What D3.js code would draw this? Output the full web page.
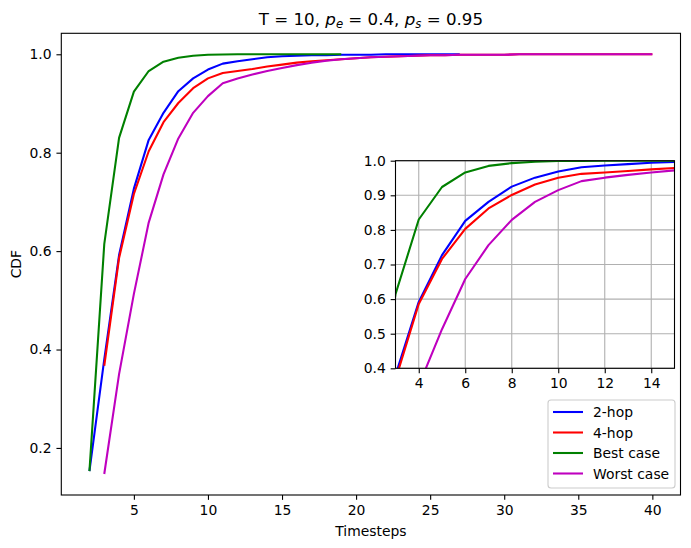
<!DOCTYPE html>
<html>
<head>
<meta charset="utf-8">
<script src="https://cdn.jsdelivr.net/npm/d3@7"></script>
<style>
    body { margin: 0; background: #fff; }
    svg text { font-family: "DejaVu Sans", sans-serif; fill: #000; }
    .axis path.domain { display: none; }
    .axis line { stroke: #000; stroke-width: 1.1px; }
    .axis text { font-size: 13.9px; }
    .grid line { stroke: #b0b0b0; stroke-width: 1.1px; }
</style>
</head>
<body>
<script>
// values
var steps2hop = [2, 3, 4, 5, 6, 7, 8, 9, 10, 11, 12, 13, 14, 15, 16, 17, 18, 19, 20, 21, 22, 23, 24, 25, 26, 27];
var hop2 = [0.153, 0.380, 0.592, 0.727, 0.826, 0.881, 0.925, 0.951, 0.969, 0.981, 0.986, 0.990, 0.994, 0.996,
    0.997, 0.998, 0.998, 0.999, 0.999, 0.999, 1.0, 1.0, 1.0, 1.0, 1.0, 1.0];

var stepsLong = [3, 4, 5, 6, 7, 8, 9, 10, 11, 12, 13, 14, 15, 16, 17, 18, 19, 20, 21, 22, 23, 24, 25, 26, 27, 28,
    29, 30, 31, 32, 33, 34, 35, 36, 37, 38, 39, 40];
var hop4 = [0.367, 0.586, 0.716, 0.803, 0.862, 0.901, 0.931, 0.951, 0.962, 0.966, 0.970, 0.975, 0.979, 0.983,
    0.986, 0.988, 0.990, 0.992, 0.994, 0.995, 0.996, 0.997, 0.998, 0.998, 0.999, 0.999, 0.999, 0.999,
    1.0, 1.0, 1.0, 1.0, 1.0, 1.0, 1.0, 1.0, 1.0, 1.0];
var worstCase = [0.147, 0.350, 0.513, 0.658, 0.756, 0.829, 0.881, 0.915, 0.941, 0.951, 0.959, 0.966, 0.972, 0.978,
    0.983, 0.987, 0.990, 0.992, 0.994, 0.995, 0.996, 0.997, 0.998, 0.998, 0.999, 0.999, 0.999, 0.999,
    1.0, 1.0, 1.0, 1.0, 1.0, 1.0, 1.0, 1.0, 1.0, 1.0];

var stepsBest = [2, 3, 4, 5, 6, 7, 8, 9, 10, 11, 12, 13, 14, 15, 16, 17, 18, 19];
var bestCase = [0.153, 0.614, 0.830, 0.924, 0.966, 0.985, 0.993, 0.997, 0.999, 0.9995, 1.0, 1.0, 1.0, 1.0,
    1.0, 1.0, 1.0, 1.0];

var seriesNames = ["2-hop", "4-hop", "Best case", "Worst case"];
var seriesColors = ["#0000ff", "#ff0000", "#008000", "#bf00bf"];

var mainXTicks = [5, 10, 15, 20, 25, 30, 35, 40];
var mainYTicks = [0.2, 0.4, 0.6, 0.8, 1.0];
var insetXTicks = [4, 6, 8, 10, 12, 14];
var insetYTicks = [0.4, 0.5, 0.6, 0.7, 0.8, 0.9, 1.0];

(function(){

    var width = 691, height = 548;
    var tick = 4.86;

    var series = [
        { name: seriesNames[0], x: steps2hop, y: hop2, color: seriesColors[0] },
        { name: seriesNames[1], x: stepsLong, y: hop4, color: seriesColors[1] },
        { name: seriesNames[2], x: stepsBest, y: bestCase, color: seriesColors[2] },
        { name: seriesNames[3], x: stepsLong, y: worstCase, color: seriesColors[3] }
    ];

    var svg = d3.select("body")
        .append("svg")
        .attr("width", width)
        .attr("height", height);

    // main axes box
    var box = { left: 61.3, right: 680.5, top: 33.3, bottom: 495 };

    // matplotlib style 5% margins
    var allX = [].concat(steps2hop, stepsLong, stepsBest);
    var allY = [].concat(hop2, hop4, bestCase, worstCase);
    var xMin = d3.min(allX), xMax = d3.max(allX), yMin = d3.min(allY), yMax = d3.max(allY);
    var xPad = (xMax - xMin) * 0.05, yPad = (yMax - yMin) * 0.05;

    var x = d3.scaleLinear().domain([xMin - xPad, xMax + xPad]).range([box.left, box.right]);
    var y = d3.scaleLinear().domain([yMin - yPad, yMax + yPad]).range([box.bottom, box.top]);

    var line = d3.line()
        .x(d => x(d[0]))
        .y(d => y(d[1]));

    svg.append("g")
        .selectAll("path")
        .data(series)
        .enter()
        .append("path")
        .attr("d", s => line(s.x.map((v, i) => [v, s.y[i]])))
        .attr("fill", "none")
        .attr("stroke", s => s.color)
        .attr("stroke-width", 2.08)
        .attr("stroke-linejoin", "round")
        .attr("stroke-linecap", "butt");

    svg.append("g")
        .attr("class", "axis")
        .attr("transform", `translate(0, ${box.bottom})`)
        .call(d3.axisBottom(x).tickValues(mainXTicks).tickSize(tick).tickPadding(tick).tickSizeOuter(0));

    svg.append("g")
        .attr("class", "axis")
        .attr("transform", `translate(${box.left}, 0)`)
        .call(d3.axisLeft(y).tickValues(mainYTicks).tickFormat(d3.format(".1f")).tickSize(tick).tickPadding(tick).tickSizeOuter(0));

    svg.append("rect")
        .attr("x", box.left)
        .attr("y", box.top)
        .attr("width", box.right - box.left)
        .attr("height", box.bottom - box.top)
        .attr("fill", "none")
        .attr("stroke", "#000")
        .attr("stroke-width", 1.1);

    svg.append("text")
        .attr("x", (box.left + box.right) / 2)
        .attr("y", 531)
        .attr("text-anchor", "middle")
        .attr("dominant-baseline", "central")
        .style("font-size", "13.9px")
        .text("Timesteps");

    svg.append("text")
        .attr("transform", `translate(16, ${(box.top + box.bottom) / 2}) rotate(-90)`)
        .attr("text-anchor", "middle")
        .attr("dominant-baseline", "central")
        .style("font-size", "13.9px")
        .text("CDF");

    // title with math parts
    var title = svg.append("text")
        .attr("x", (box.left + box.right) / 2)
        .attr("y", 25)
        .attr("text-anchor", "middle")
        .style("font-size", "16.67px");
    title.append("tspan").text("T = 10, ");
    title.append("tspan").style("font-style", "italic").text("p");
    title.append("tspan").attr("dy", 3).style("font-size", "11.7px").style("font-style", "italic").text("e");
    title.append("tspan").attr("dy", -3).text(" = 0.4, ");
    title.append("tspan").style("font-style", "italic").text("p");
    title.append("tspan").attr("dy", 3).style("font-size", "11.7px").style("font-style", "italic").text("s");
    title.append("tspan").attr("dy", -3).text(" = 0.95");

    drawInset(series);
    drawLegend(series);

    function drawInset(series){
        var ib = { left: 395.5, right: 674.5, top: 160.7, bottom: 368.3 };

        var ix = d3.scaleLinear().domain([3, 15]).range([ib.left, ib.right]);
        var iy = d3.scaleLinear().domain([0.4, 1.0]).range([ib.bottom, ib.top]);

        var inset = svg.append("g");

        inset.append("rect")
            .attr("x", ib.left)
            .attr("y", ib.top)
            .attr("width", ib.right - ib.left)
            .attr("height", ib.bottom - ib.top)
            .attr("fill", "#fff");

        inset.append("clipPath")
            .attr("id", "insetClip")
            .append("rect")
            .attr("x", ib.left)
            .attr("y", ib.top)
            .attr("width", ib.right - ib.left)
            .attr("height", ib.bottom - ib.top);

        // grid
        inset.append("g")
            .attr("class", "grid")
            .selectAll("line.gx")
            .data(insetXTicks)
            .enter()
            .append("line")
            .attr("x1", d => ix(d)).attr("x2", d => ix(d))
            .attr("y1", ib.top).attr("y2", ib.bottom);

        inset.append("g")
            .attr("class", "grid")
            .selectAll("line.gy")
            .data(insetYTicks)
            .enter()
            .append("line")
            .attr("x1", ib.left).attr("x2", ib.right)
            .attr("y1", d => iy(d)).attr("y2", d => iy(d));

        var iline = d3.line()
            .x(d => ix(d[0]))
            .y(d => iy(d[1]));

        inset.append("g")
            .attr("clip-path", "url(#insetClip)")
            .selectAll("path")
            .data(series)
            .enter()
            .append("path")
            .attr("d", s => iline(s.x.map((v, i) => [v, s.y[i]])))
            .attr("fill", "none")
            .attr("stroke", s => s.color)
            .attr("stroke-width", 2.08)
            .attr("stroke-linejoin", "round");

        inset.append("g")
            .attr("class", "axis")
            .attr("transform", `translate(0, ${ib.bottom})`)
            .call(d3.axisBottom(ix).tickValues(insetXTicks).tickSize(tick).tickPadding(tick).tickSizeOuter(0));

        inset.append("g")
            .attr("class", "axis")
            .attr("transform", `translate(${ib.left}, 0)`)
            .call(d3.axisLeft(iy).tickValues(insetYTicks).tickFormat(d3.format(".1f")).tickSize(tick).tickPadding(tick).tickSizeOuter(0));

        inset.append("rect")
            .attr("x", ib.left)
            .attr("y", ib.top)
            .attr("width", ib.right - ib.left)
            .attr("height", ib.bottom - ib.top)
            .attr("fill", "none")
            .attr("stroke", "#000")
            .attr("stroke-width", 1.1);
    }

    function drawLegend(series){
        var lx = 548, ly = 400, lw = 127, lh = 88, row = 20.5;

        var legend = svg.append("g");

        legend.append("rect")
            .attr("x", lx)
            .attr("y", ly)
            .attr("width", lw)
            .attr("height", lh)
            .attr("rx", 3)
            .attr("fill", "#fff")
            .attr("fill-opacity", 0.8)
            .attr("stroke", "#cccccc")
            .attr("stroke-width", 1.1);

        var items = legend.selectAll("g.item")
            .data(series)
            .enter()
            .append("g")
            .attr("transform", (d, i) => `translate(${lx}, ${ly + 12 + i * row})`);

        items.append("line")
            .attr("x1", 5).attr("x2", 35)
            .attr("y1", 0).attr("y2", 0)
            .attr("stroke", d => d.color)
            .attr("stroke-width", 2.08);

        items.append("text")
            .attr("x", 45)
            .attr("y", 0)
            .attr("dominant-baseline", "central")
            .style("font-size", "13.9px")
            .text(d => d.name);
    }

})();
</script>
</body>
</html>
